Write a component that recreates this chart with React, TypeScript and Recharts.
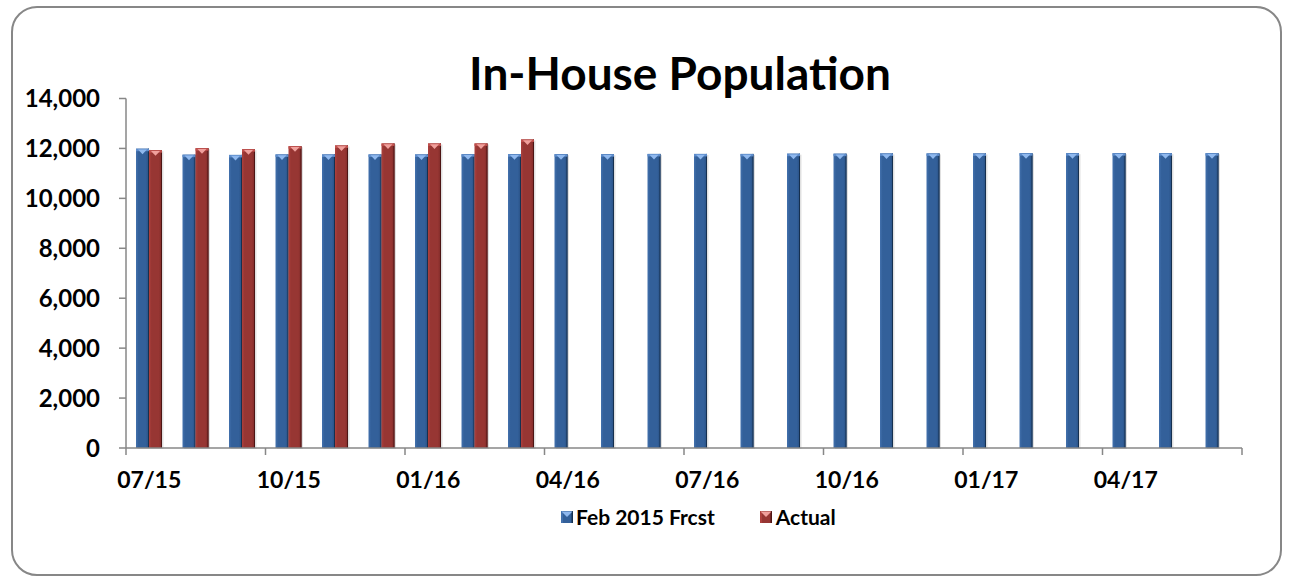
import React from 'react';
import { BarChart, Bar, XAxis, YAxis, Legend } from 'recharts';

const months = [
  '07/15', '08/15', '09/15', '10/15', '11/15', '12/15',
  '01/16', '02/16', '03/16', '04/16', '05/16', '06/16',
  '07/16', '08/16', '09/16', '10/16', '11/16', '12/16',
  '01/17', '02/17', '03/17', '04/17', '05/17', '06/17',
];

const forecast = [
  11990, 11750, 11740, 11760, 11760, 11760,
  11760, 11770, 11770, 11770, 11770, 11780,
  11780, 11780, 11790, 11790, 11800, 11800,
  11800, 11810, 11810, 11810, 11810, 11810,
];

const actual: (number | null)[] = [
  11930, 12010, 11970, 12090, 12120, 12200,
  12200, 12200, 12360, null, null, null,
  null, null, null, null, null, null,
  null, null, null, null, null, null,
];

const yTicks = [0, 2000, 4000, 6000, 8000, 10000, 12000, 14000];

const seriesNames = { forecast: 'Feb 2015 Frcst', actual: 'Actual' };

const data = months.map((m, i) => ({ month: m, forecast: forecast[i], actual: actual[i] }));

const W = 1294;
const H = 577;
const M = { top: 98.5, right: 52, left: 0, bottom: 40 };
const YW = 126;
const BAND = (W - M.right - M.left - YW) / months.length;
const FONT = 'Lato, "Open Sans", sans-serif';
const AXIS = '#878787';

const PAL = {
  blue: { l: '#4371ad', m: '#33609a', r: '#284f82', e: '#16304f', top: '#5d8ccb', tri: '#8fb8ee' },
  red: { l: '#ad403d', m: '#973633', r: '#7e2a28', e: '#4d1514', top: '#c0504d', tri: '#f0a09c' },
};

const makeShape = (kind: 'blue' | 'red') => (props: any) => {
  const { x, y, width, height } = props;
  if (height == null || !(height > 0) || y == null) return <g />;
  const c = PAL[kind];
  return (
    <g>
      <rect x={x + 1.5} y={y + 1} width={width} height={height} fill="#000" opacity={0.12} />
      <rect x={x} y={y} width={width} height={height} fill={`url(#grad-${kind})`} />
      <line x1={x + width - 0.5} x2={x + width - 0.5} y1={y} y2={y + height} stroke={c.e} strokeWidth={1} />
      <rect x={x} y={y} width={width} height={2.5} fill={c.top} />
      <polygon points={`${x + 2},${y + 0.8} ${x + width - 2},${y + 0.8} ${x + width / 2},${y + 5.5}`} fill={c.tri} />
    </g>
  );
};

const XTick = (props: any) => {
  const { x, y, payload } = props;
  const left = x - BAND / 2;
  const isLast = payload.value === months[months.length - 3];
  return (
    <g>
      <line x1={left} x2={left} y1={y} y2={y + 7} stroke={AXIS} strokeWidth={1.5} />
      {isLast && (
        <line x1={left + 3 * BAND} x2={left + 3 * BAND} y1={y} y2={y + 7} stroke={AXIS} strokeWidth={1.5} />
      )}
      <text x={x} y={y + 40} textAnchor="middle" fontFamily={FONT} fontWeight={700} fontSize={23} fill="#000">
        {payload.value}
      </text>
    </g>
  );
};

const Icon = ({ kind }: { kind: 'blue' | 'red' }) => {
  const c = PAL[kind];
  return (
    <svg width={12} height={12} style={{ display: 'block' }}>
      <rect x={0} y={0} width={12} height={12} fill={c.m} />
      <rect x={0} y={0} width={2} height={12} fill={c.l} />
      <rect x={10.5} y={0} width={1.5} height={12} fill={c.e} />
      <polygon points="0.5,0.5 11.5,0.5 6,6" fill={c.tri} />
    </svg>
  );
};

const LegendContent = () => (
  <div
    style={{
      display: 'flex',
      alignItems: 'center',
      height: 29,
      paddingLeft: 561,
      fontFamily: FONT,
      fontWeight: 700,
      fontSize: 21,
      color: '#000',
    }}
  >
    <Icon kind="blue" />
    <span style={{ marginLeft: 3 }}>{seriesNames.forecast}</span>
    <span style={{ width: 45 }} />
    <Icon kind="red" />
    <span style={{ marginLeft: 4 }}>{seriesNames.actual}</span>
  </div>
);

export default function App() {
  return (
    <div style={{ position: 'fixed', left: 0, top: 0, width: W, height: H, background: '#fff' }}>
      <div
        style={{
          position: 'absolute',
          left: 11,
          top: 6,
          width: 1271,
          height: 570,
          boxSizing: 'border-box',
          border: `2px solid ${AXIS}`,
          borderRadius: 26,
        }}
      />
      <div
        style={{
          position: 'absolute',
          left: 0,
          top: 0,
          width: W,
          height: H,
        }}
      >
        <BarChart width={W} height={H} data={data} margin={M} barGap={0} barSize={13}>
          <defs>
            <linearGradient id="grad-blue" x1="0" y1="0" x2="1" y2="0">
              <stop offset="0%" stopColor={PAL.blue.l} />
              <stop offset="20%" stopColor={PAL.blue.m} />
              <stop offset="75%" stopColor={PAL.blue.m} />
              <stop offset="100%" stopColor={PAL.blue.r} />
            </linearGradient>
            <linearGradient id="grad-red" x1="0" y1="0" x2="1" y2="0">
              <stop offset="0%" stopColor={PAL.red.l} />
              <stop offset="20%" stopColor={PAL.red.m} />
              <stop offset="75%" stopColor={PAL.red.m} />
              <stop offset="100%" stopColor={PAL.red.r} />
            </linearGradient>
          </defs>
          <XAxis
            dataKey="month"
            height={60}
            interval={2}
            tickLine={false}
            tickSize={0}
            tickMargin={0}
            axisLine={{ stroke: AXIS, strokeWidth: 1.5 }}
            tick={<XTick />}
          />
          <YAxis
            width={YW}
            domain={[0, 14000]}
            ticks={yTicks}
            interval={0}
            tickSize={7}
            tickMargin={19}
            tickLine={{ stroke: AXIS, strokeWidth: 1.5 }}
            axisLine={{ stroke: AXIS, strokeWidth: 1.5 }}
            tickFormatter={(v: number) => v.toLocaleString('en-US')}
            tick={{ fontFamily: FONT, fontWeight: 700, fontSize: 24, fill: '#000' }}
          />
          <Legend verticalAlign="bottom" content={<LegendContent />} wrapperStyle={{ bottom: 46 }} />
          <Bar dataKey="forecast" name={seriesNames.forecast} fill={PAL.blue.m} shape={makeShape('blue')} isAnimationActive={false} />
          <Bar dataKey="actual" name={seriesNames.actual} fill={PAL.red.m} shape={makeShape('red')} isAnimationActive={false} />
        </BarChart>
      </div>
      <div
        style={{
          position: 'absolute',
          left: 430,
          width: 500,
          top: 50,
          textAlign: 'center',
          fontFamily: FONT,
          fontWeight: 700,
          fontSize: 46,
          lineHeight: '46px',
          whiteSpace: 'nowrap',
          color: '#000',
        }}
      >
        In-House Population
      </div>
    </div>
  );
}
